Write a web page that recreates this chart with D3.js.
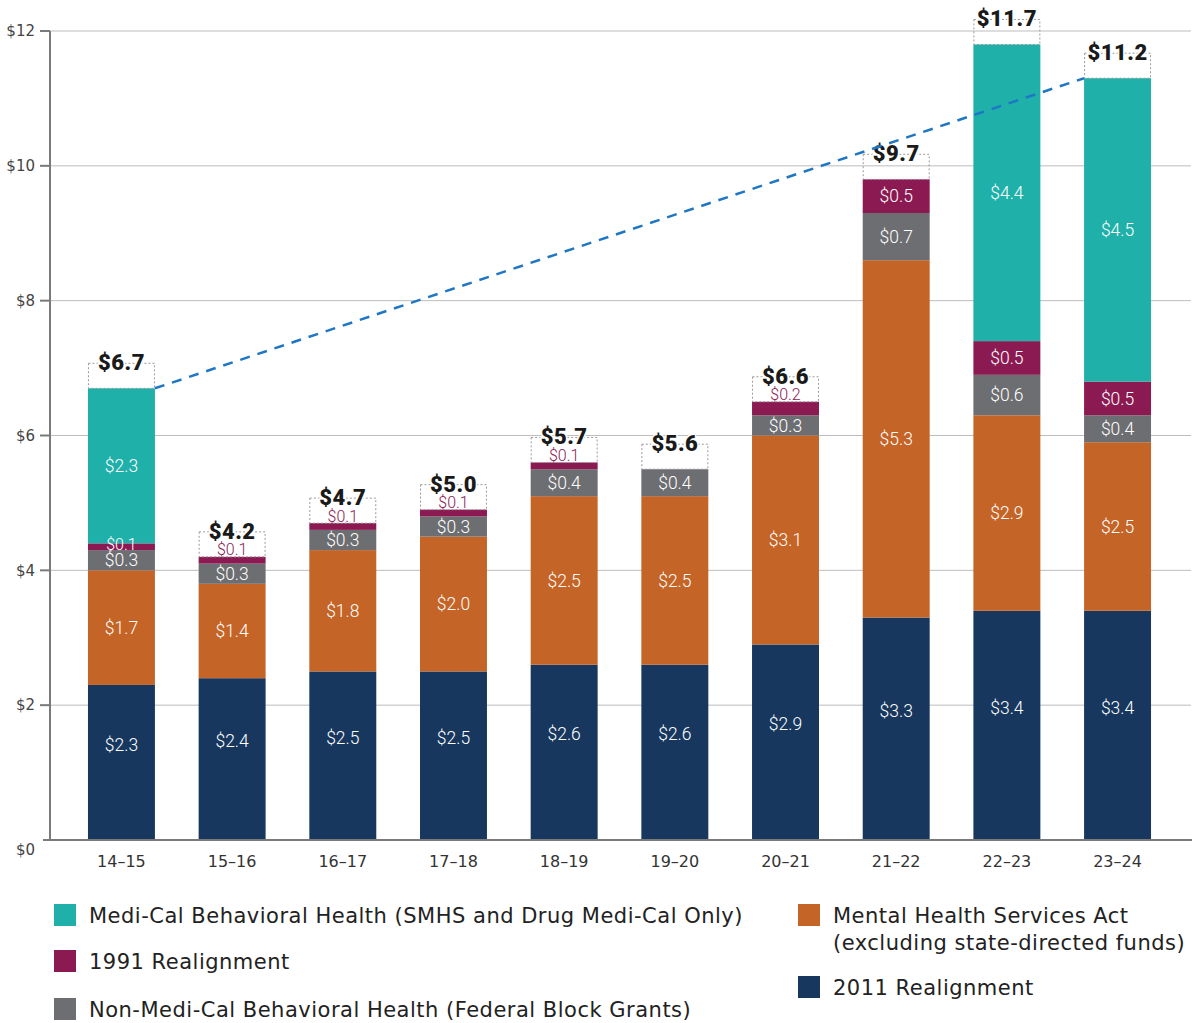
<!DOCTYPE html>
<html>
<head>
<meta charset="utf-8">
<script src="https://cdn.jsdelivr.net/npm/d3@7"></script>
<style>
  body { margin: 0; background: #fff; }
  svg { display: block; }
</style>
</head>
<body>
<div id="chart"></div>
<script>
// fiscal years
var years = ["14-15", "15-16", "16-17", "17-18", "18-19", "19-20", "20-21", "21-22", "22-23", "23-24"];

// series values (billions)
var realign2011 = [2.3, 2.4, 2.5, 2.5, 2.6, 2.6, 2.9, 3.3, 3.4, 3.4];
var mhsa        = [1.7, 1.4, 1.8, 2.0, 2.5, 2.5, 3.1, 5.3, 2.9, 2.5];
var nonMediCal  = [0.3, 0.3, 0.3, 0.3, 0.4, 0.4, 0.3, 0.7, 0.6, 0.4];
var realign1991 = [0.1, 0.1, 0.1, 0.1, 0.1, 0, 0.2, 0.5, 0.5, 0.5];
var mediCal     = [2.3, 0, 0, 0, 0, 0, 0, 0, 4.4, 4.5];

var totals = ["$6.7", "$4.2", "$4.7", "$5.0", "$5.7", "$5.6", "$6.6", "$9.7", "$11.7", "$11.2"];
var yTicks = [0, 2, 4, 6, 8, 10, 12];

var seriesKeys = ["realign2011", "mhsa", "nonMediCal", "realign1991", "mediCal"];
var colors = {
    realign2011: "#17375e",
    mhsa: "#c56427",
    nonMediCal: "#6d6e71",
    realign1991: "#8b1a52",
    mediCal: "#1fb0aa"
};

var table = years.map(function (yr, i) {
    return {
        year: yr,
        realign2011: realign2011[i],
        mhsa: mhsa[i],
        nonMediCal: nonMediCal[i],
        realign1991: realign1991[i],
        mediCal: mediCal[i]
    };
});

var width = 1201, height = 1023;
var plotLeft = 50, plotRight = 1189, plotTop = 31, plotBottom = 840;
var legendFont = "'DejaVu Sans', sans-serif";
var labelFont = "Roboto, 'Liberation Sans', sans-serif";

var svg = d3.select("#chart").append("svg")
    .attr("width", width)
    .attr("height", height)
    .style("font-family", legendFont);

var x = d3.scaleBand()
    .domain(years)
    .range([plotLeft, plotRight])
    .paddingInner(0.395)
    .paddingOuter(0.343);

var y = d3.scaleLinear()
    .domain([0, 12])
    .range([plotBottom, plotTop]);

// gridlines
svg.append("g")
    .selectAll("line")
    .data(yTicks.filter(function (d) { return d > 0; }))
    .enter()
    .append("line")
    .attr("x1", plotLeft)
    .attr("x2", 1191)
    .attr("y1", function (d) { return y(d); })
    .attr("y2", function (d) { return y(d); })
    .attr("stroke", "#bdbdbd")
    .attr("stroke-width", 1);

// y tick marks + labels
svg.append("g")
    .selectAll("line")
    .data(yTicks.filter(function (d) { return d > 0; }))
    .enter()
    .append("line")
    .attr("x1", 40)
    .attr("x2", plotLeft)
    .attr("y1", function (d) { return y(d); })
    .attr("y2", function (d) { return y(d); })
    .attr("stroke", "#7a7a7a")
    .attr("stroke-width", 2);

svg.append("g")
    .selectAll("text")
    .data(yTicks)
    .enter()
    .append("text")
    .attr("x", 35)
    .attr("y", function (d) { return d === 0 ? y(d) + 10 : y(d); })
    .attr("dy", "0.35em")
    .attr("text-anchor", "end")
    .style("font-size", "15px")
    .style("fill", "#444")
    .text(function (d) { return "$" + d; });

// stacked bars
var stack = d3.stack().keys(seriesKeys);
var layers = stack(table);

var layerG = svg.append("g")
    .selectAll("g")
    .data(layers)
    .enter()
    .append("g")
    .attr("fill", function (d) { return colors[d.key]; });

layerG.selectAll("rect")
    .data(function (d) { return d; })
    .enter()
    .filter(function (d) { return d[1] - d[0] > 0; })
    .append("rect")
    .attr("x", function (d) { return x(d.data.year); })
    .attr("width", x.bandwidth())
    .attr("y", function (d) { return y(d[1]); })
    .attr("height", function (d) { return y(d[0]) - y(d[1]); });

// axes lines
svg.append("line")
    .attr("x1", plotLeft).attr("x2", plotLeft)
    .attr("y1", plotTop).attr("y2", plotBottom)
    .attr("stroke", "#7a7a7a").attr("stroke-width", 2);
svg.append("line")
    .attr("x1", 43).attr("x2", 1192)
    .attr("y1", plotBottom).attr("y2", plotBottom)
    .attr("stroke", "#7a7a7a").attr("stroke-width", 2);

// x labels
svg.append("g")
    .selectAll("text")
    .data(years)
    .enter()
    .append("text")
    .attr("x", function (d) { return x(d) + x.bandwidth() / 2; })
    .attr("y", 861)
    .attr("dy", "0.35em")
    .attr("text-anchor", "middle")
    .style("font-size", "16px")
    .style("fill", "#333")
    .text(function (d) { return d.replace("-", "\u2013"); });

// segment value labels
layers.forEach(function (layer) {
    layer.forEach(function (d, i) {
        var v = d[1] - d[0];
        if (v <= 0) return;
        var cx = x(d.data.year) + x.bandwidth() / 2;
        var y0 = y(d[0]), y1 = y(d[1]);
        var ty = (y0 + y1) / 2;
        var fill = "#fff";
        var size = 17.5;
        if (layer.key === "realign2011") ty -= 18;
        if (layer.key === "realign1991" && v < 0.3) {
            size = 16;
            if (table[i].mediCal > 0) {
                ty = y1 + 1;
            } else {
                ty = y1 - 7;
                fill = colors.realign1991;
            }
        }
        svg.append("text")
            .attr("x", cx)
            .attr("y", ty)
            .attr("dy", "0.35em")
            .attr("text-anchor", "middle")
            .style("font-family", labelFont)
            .style("font-weight", 300)
            .style("font-size", size + "px")
            .style("fill", fill)
            .text("$" + d3.format(".1f")(v));
    });
});

// total boxes
var topLayer = layers[layers.length - 1];
topLayer.forEach(function (d, i) {
    var bx = x(d.data.year);
    var by = y(d[1]);
    svg.append("rect")
        .attr("x", bx + 0.5)
        .attr("y", by - 25)
        .attr("width", x.bandwidth() - 1)
        .attr("height", 25)
        .attr("fill", "none")
        .attr("stroke", "#9a9a9a")
        .attr("stroke-width", 1)
        .attr("stroke-dasharray", "2,2");
    svg.append("text")
        .attr("x", bx + x.bandwidth() / 2)
        .attr("y", by - 18)
        .attr("text-anchor", "middle")
        .style("font-family", labelFont)
        .style("font-weight", 900)
        .style("font-size", "22px")
        .style("letter-spacing", "0.5px")
        .style("fill", "#1a1a1a")
        .style("stroke", "#fff")
        .style("stroke-width", 3)
        .style("paint-order", "stroke")
        .text(totals[i]);
});

// trend line from first bar to last bar
var first = topLayer[0], last = topLayer[topLayer.length - 1];
svg.append("line")
    .attr("x1", x(first.data.year) + x.bandwidth())
    .attr("y1", y(first[1]))
    .attr("x2", x(last.data.year))
    .attr("y2", y(last[1]))
    .attr("stroke", "#1f77c4")
    .attr("stroke-width", 2.5)
    .attr("stroke-dasharray", "10,8");

// legend
var legendItems = [
    { key: "mediCal", lines: ["Medi-Cal Behavioral Health (SMHS and Drug Medi-Cal Only)"], x: 54, y: 916 },
    { key: "realign1991", lines: ["1991 Realignment"], x: 54, y: 962 },
    { key: "nonMediCal", lines: ["Non-Medi-Cal Behavioral Health (Federal Block Grants)"], x: 54, y: 1010 },
    { key: "mhsa", lines: ["Mental Health Services Act", "(excluding state-directed funds)"], x: 798, y: 916 },
    { key: "realign2011", lines: ["2011 Realignment"], x: 798, y: 988 }
];

var legend = svg.append("g")
    .selectAll("g")
    .data(legendItems)
    .enter()
    .append("g")
    .attr("transform", function (d) { return "translate(" + d.x + "," + d.y + ")"; });

legend.append("rect")
    .attr("x", 0)
    .attr("y", -12)
    .attr("width", 22)
    .attr("height", 22)
    .attr("fill", function (d) { return colors[d.key]; });

legend.append("text")
    .attr("x", 35)
    .attr("y", 0)
    .style("font-size", "21px")
    .style("letter-spacing", "0.5px")
    .style("fill", "#222")
    .selectAll("tspan")
    .data(function (d) { return d.lines; })
    .enter()
    .append("tspan")
    .attr("x", 35)
    .attr("dy", function (d, i) { return i === 0 ? "0.35em" : "1.25em"; })
    .text(function (d) { return d; });
</script>
</body>
</html>
